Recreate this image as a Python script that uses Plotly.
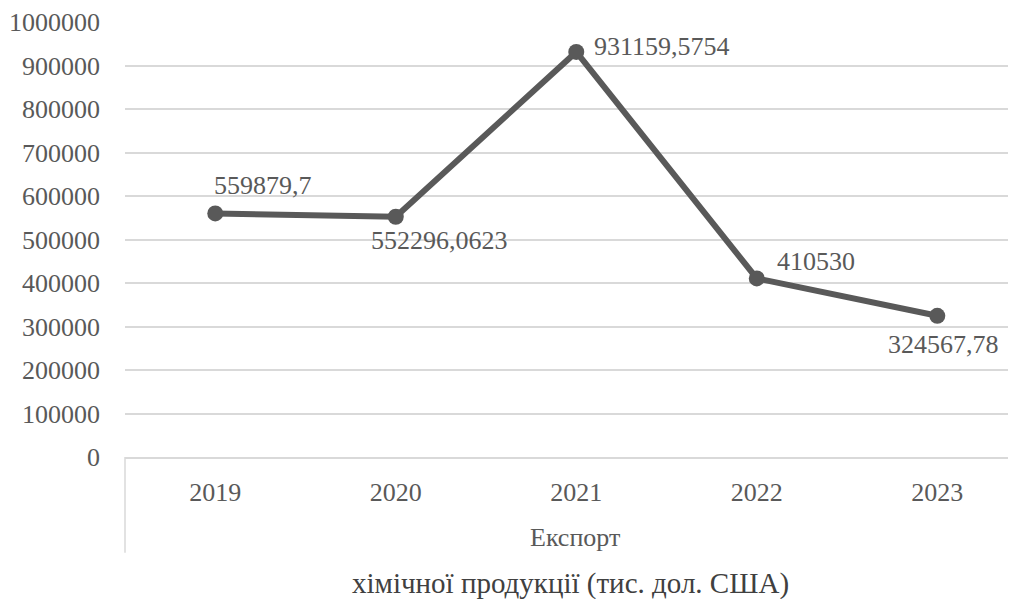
import plotly.graph_objects as go

years = ["2019", "2020", "2021", "2022", "2023"]
values = [559879.7, 552296.0623, 931159.5754, 410530, 324567.78]
labels = ["559879,7", "552296,0623", "931159,5754", "410530", "324567,78"]
group_label = "Експорт"
axis_title = "хімічної продукції (тис. дол. США)"
y_ticks = [0, 100000, 200000, 300000, 400000, 500000, 600000, 700000, 800000, 900000, 1000000]

GRAY = "#595959"
FONT = "Liberation Serif, Times New Roman, serif"
FS = 26

fig = go.Figure()
fig.add_trace(go.Scatter(
    x=years, y=values, mode="lines+markers",
    line=dict(color=GRAY, width=6),
    marker=dict(color=GRAY, size=16),
    hoverinfo="skip", showlegend=False,
))

# label placement offsets (style only)
offsets = [
    dict(xanchor="left", xshift=-3, yshift=28),
    dict(xanchor="left", xshift=-27, yshift=-24),
    dict(xanchor="left", xshift=16, yshift=5),
    dict(xanchor="left", xshift=18, yshift=17),
    dict(xanchor="center", xshift=6, yshift=-29),
]
for i, (y, t, o) in enumerate(zip(values, labels, offsets)):
    fig.add_annotation(x=i, y=y, text=t, showarrow=False, yanchor="middle",
                       font=dict(family=FONT, size=FS, color=GRAY), **o)

fig.add_annotation(x=0.5, xref="paper", y=-0.184, yref="paper", text=group_label,
                   showarrow=False, xanchor="center", yanchor="middle",
                   xshift=4,
                   font=dict(family=FONT, size=FS, color=GRAY))
fig.add_annotation(x=0.5, xref="paper", y=-0.29, yref="paper", text=axis_title,
                   showarrow=False, xanchor="center", yanchor="middle",
                   xshift=0,
                   font=dict(family=FONT, size=29, color="#404040"))

fig.add_shape(type="line", xref="paper", yref="paper", x0=0, x1=0, y0=0, y1=-0.22,
              line=dict(color="#d9d9d9", width=1.5))

fig.update_layout(
    width=1008, height=591,
    margin=dict(l=117, r=0, t=14, b=142),
    paper_bgcolor="white", plot_bgcolor="white",
    font=dict(family=FONT, size=FS, color=GRAY),
)
fig.update_xaxes(
    type="category", range=[-0.5, 4.436],
    showgrid=False, showline=True, linecolor="#d9d9d9", linewidth=1.5,
    ticks="", ticklabelstandoff=11,
    tickfont=dict(family=FONT, size=FS, color=GRAY),
)
fig.update_yaxes(
    range=[0, 1000000], tickvals=y_ticks, ticktext=[str(v) for v in y_ticks],
    showgrid=True, gridcolor="#d9d9d9", gridwidth=1.5,
    zeroline=False, showline=False, ticks="", ticklabelstandoff=24,
    tickfont=dict(family=FONT, size=FS, color=GRAY),
)

fig.write_html("out.html")
